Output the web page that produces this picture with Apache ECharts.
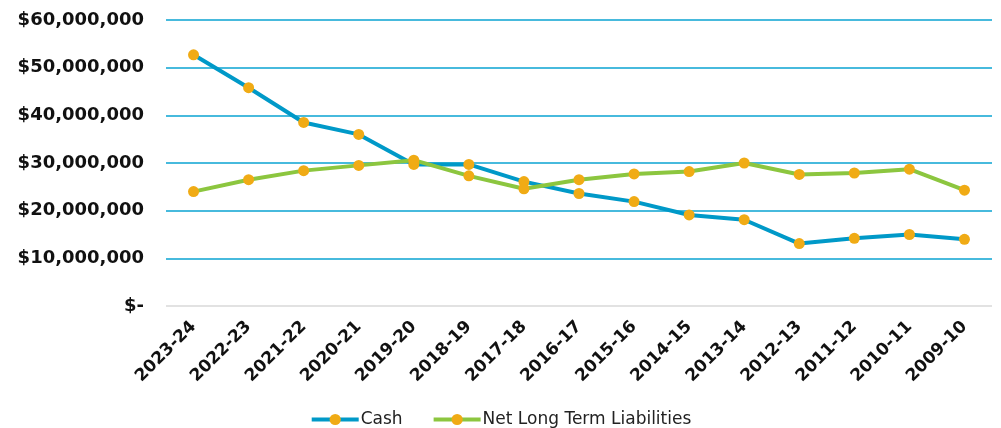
<!DOCTYPE html>
<html>
<head>
<meta charset="utf-8">
<script src="https://cdn.jsdelivr.net/npm/echarts@6/dist/echarts.min.js"></script>
<style>
  html, body { margin: 0; padding: 0; background: #fff; }
  #chart { width: 1001px; height: 428px; }
</style>
</head>
<body>
<div id="chart"></div>
<script>
const years = ['2023-24', '2022-23', '2021-22', '2020-21', '2019-20', '2018-19', '2017-18',
  '2016-17', '2015-16', '2014-15', '2013-14', '2012-13', '2011-12', '2010-11', '2009-10'];
const cash = [52700000, 45800000, 38500000, 36000000, 29700000, 29700000, 26100000,
  23600000, 21900000, 19100000, 18100000, 13100000, 14200000, 15000000, 14000000];
const netLongTermLiabilities = [24000000, 26500000, 28400000, 29500000, 30600000, 27300000, 24600000,
  26500000, 27700000, 28200000, 30000000, 27600000, 27900000, 28700000, 24300000];

const markerColor = '#F0AB15';
const boldFont = "'DejaVu Sans', sans-serif";
const fmt = v => v === 0 ? '$-' : '$' + v.toLocaleString('en-US');

const chart = echarts.init(document.getElementById('chart'));
chart.setOption({
  animation: false,
  grid: { left: 166, right: 9, top: 20, bottom: 122, containLabel: false },
  legend: {
    top: 406,
    left: 'center',
    itemWidth: 47,
    itemHeight: 14,
    itemGap: 29,
    lineStyle: { width: 4 },
    textStyle: { fontFamily: "'DejaVu Sans', sans-serif", fontSize: 17, color: '#222', padding: [0, 0, 0, -3] },
    data: ['Cash', 'Net Long Term Liabilities']
  },
  xAxis: {
    type: 'category',
    data: years,
    boundaryGap: true,
    axisLine: { show: false },
    axisTick: { show: false },
    axisLabel: {
      rotate: 45,
      interval: 0,
      margin: 18,
      color: '#111',
      fontWeight: 'bold',
      fontSize: 17,
      fontFamily: boldFont
    }
  },
  yAxis: {
    type: 'value',
    min: 0,
    max: 60000000,
    interval: 10000000,
    axisLine: { show: false },
    axisTick: { show: false },
    splitLine: {
      lineStyle: {
        color: ['#D9D9D9', '#0AA3D2', '#0AA3D2', '#0AA3D2', '#0AA3D2', '#0AA3D2', '#0AA3D2'],
        width: 1.5
      }
    },
    axisLabel: {
      margin: 22,
      color: '#111',
      fontWeight: 'bold',
      fontSize: 18,
      fontFamily: boldFont,
      formatter: fmt
    }
  },
  series: [
    {
      name: 'Cash',
      type: 'line',
      data: cash,
      symbol: 'circle',
      symbolSize: 11,
      itemStyle: { color: markerColor },
      lineStyle: { color: '#0099C8', width: 4 }
    },
    {
      name: 'Net Long Term Liabilities',
      type: 'line',
      data: netLongTermLiabilities,
      symbol: 'circle',
      symbolSize: 11,
      itemStyle: { color: markerColor },
      lineStyle: { color: '#8CC63F', width: 4 }
    }
  ]
});
</script>
</body>
</html>
